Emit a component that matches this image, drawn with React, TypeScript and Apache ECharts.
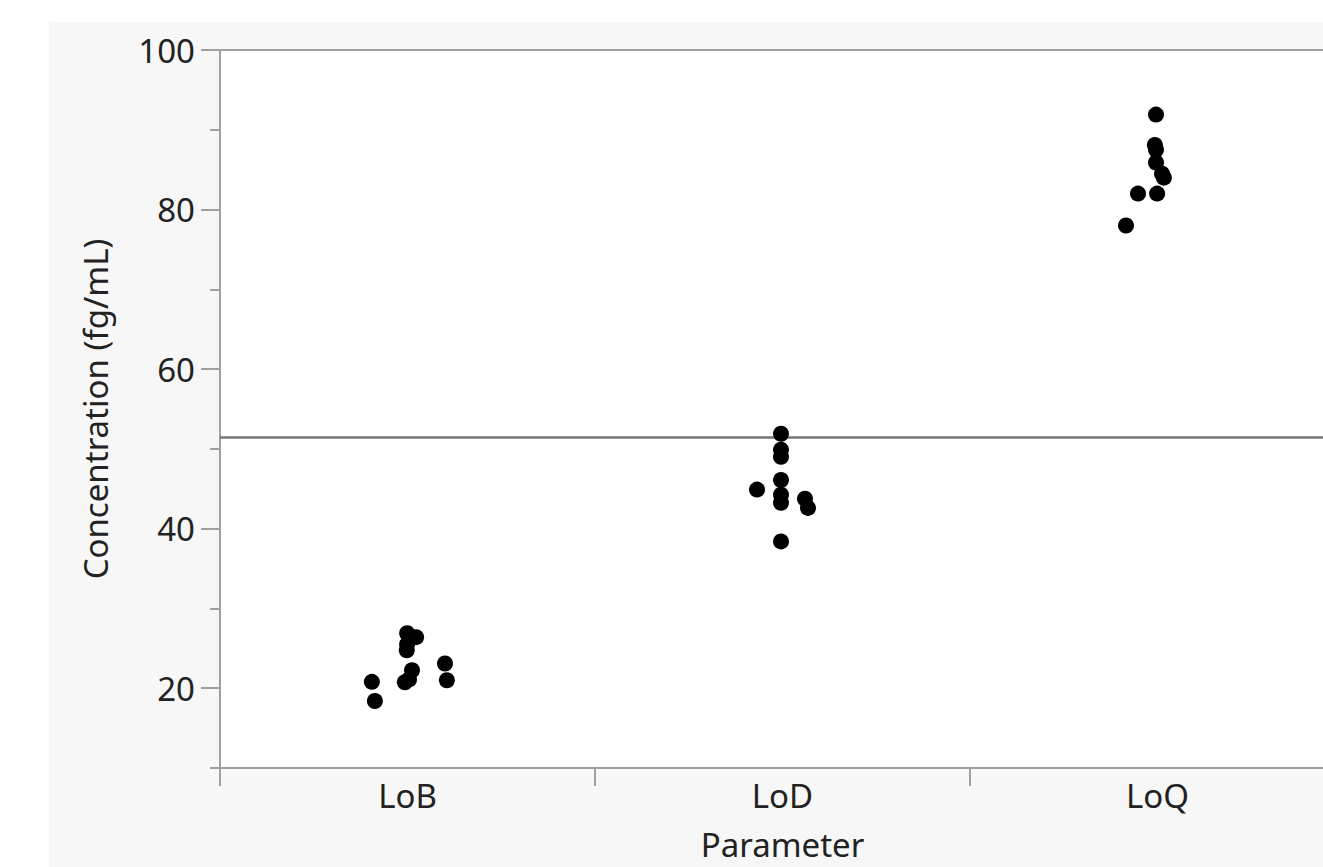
import React, { useEffect, useRef } from "react";
import * as echarts from "echarts";

const categories = ["LoB", "LoD", "LoQ"];
const majorTicks = [20, 40, 60, 80, 100];
const minorTicks = [10, 30, 50, 70, 90];
const referenceValue = 51.5;

// x positions in category units (category i spans i..i+1), y = concentration
const lobX = [0.405, 0.413, 0.499, 0.523, 0.498, 0.499, 0.512, 0.493, 0.504, 0.6, 0.605];
const lobY = [20.8, 18.4, 26.9, 26.4, 24.75, 25.5, 22.25, 20.75, 21.1, 23.1, 21.0];
const lodX = [1.496, 1.496, 1.496, 1.496, 1.432, 1.496, 1.496, 1.56, 1.568, 1.496];
const lodY = [51.9, 49.9, 49.0, 46.1, 44.9, 44.25, 43.25, 43.75, 42.6, 38.4];
const loqX = [2.496, 2.493, 2.496, 2.496, 2.517, 2.512, 2.448, 2.499, 2.416];
const loqY = [91.9, 88.1, 87.5, 85.9, 84.0, 84.5, 82.0, 82.0, 78.0];

const FONT = "'Noto Sans', 'Open Sans', sans-serif";
const TEXT = "#222222";
const AXIS = "#a0a0a0";

export default function App() {
  const ref = useRef<HTMLDivElement>(null);
  useEffect(() => {
    if (!ref.current) return;
    const chart = echarts.init(ref.current, null, { renderer: "svg" });
    const pts = [
      ...lobX.map((x, i) => [x, lobY[i]]),
      ...lodX.map((x, i) => [x, lodY[i]]),
      ...loqX.map((x, i) => [x, loqY[i]]),
    ];
    chart.setOption({
      animation: false,
      backgroundColor: "#ffffff",
      graphic: [
        {
          type: "rect",
          left: 49,
          top: 22,
          z: -10,
          shape: { width: 1500, height: 900 },
          style: { fill: "#f7f7f7" },
          silent: true,
        },
      ],
      grid: {
        left: 220,
        top: 50,
        width: 1125,
        height: 718,
        show: true,
        backgroundColor: "#ffffff",
        borderColor: AXIS,
        borderWidth: 2,
      },
      xAxis: [
        {
          type: "category",
          data: categories,
          boundaryGap: true,
          axisLine: { show: true, lineStyle: { color: AXIS, width: 2 } },
          axisTick: { show: true, length: 18, lineStyle: { color: AXIS, width: 2 } },
          axisLabel: { fontSize: 33, fontFamily: FONT, color: TEXT, margin: 11 },
          splitLine: { show: false },
          name: "Parameter",
          nameLocation: "middle",
          nameGap: 60,
          nameTextStyle: { fontSize: 33, fontFamily: FONT, color: TEXT, verticalAlign: "top" },
        },
        {
          type: "value",
          min: 0,
          max: 3,
          show: false,
        },
      ],
      yAxis: [
        {
          type: "value",
          min: 10,
          max: 100,
          axisLine: { show: true, lineStyle: { color: AXIS, width: 2 } },
          axisTick: { show: true, length: 19, customValues: majorTicks, lineStyle: { color: AXIS, width: 2 } },
          axisLabel: {
            customValues: majorTicks,
            fontSize: 33,
            fontFamily: FONT,
            color: TEXT,
            margin: 25,
          },
          splitLine: { show: false },
          name: "Concentration (fg/mL)",
          nameLocation: "middle",
          nameGap: 108,
          nameRotate: 90,
          nameTextStyle: { fontSize: 33, fontFamily: FONT, color: TEXT },
        },
        {
          type: "value",
          min: 10,
          max: 100,
          position: "left",
          axisLine: { show: false },
          axisTick: { show: true, length: 10, customValues: minorTicks, lineStyle: { color: AXIS, width: 2 } },
          axisLabel: { show: false },
          splitLine: { show: false },
        },
      ],
      series: [
        {
          type: "scatter",
          xAxisIndex: 1,
          yAxisIndex: 0,
          data: pts,
          symbol: "circle",
          symbolSize: 16,
          itemStyle: { color: "#000000", opacity: 1 },
          silent: true,
          markLine: {
            silent: true,
            symbol: ["none", "none"],
            label: { show: false },
            lineStyle: { color: "#777777", width: 2.5, type: "solid" },
            data: [{ yAxis: referenceValue }],
            z: 1,
          },
          z: 5,
        },
      ],
    });
    return () => chart.dispose();
  }, []);
  return (
    <div
      ref={ref}
      style={{ position: "fixed", left: 0, top: 0, width: 1400, height: 867 }}
    />
  );
}
